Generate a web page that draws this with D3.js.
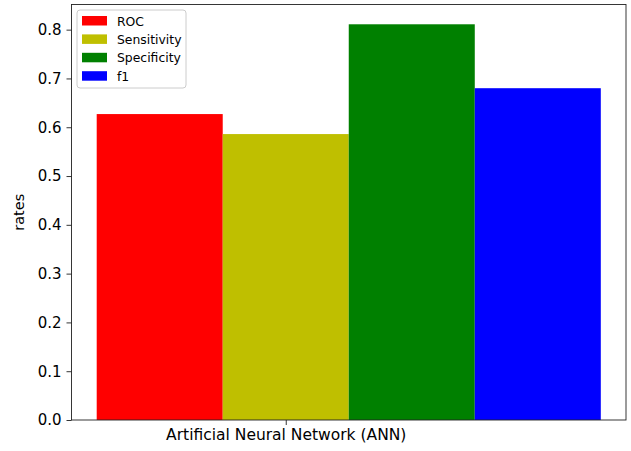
<!DOCTYPE html>
<html>
<head>
<meta charset="utf-8">
<script src="https://cdn.jsdelivr.net/npm/d3@7"></script>
<style>
  body { margin: 0; background: #fff; }
  svg { display: block; font-family: "DejaVu Sans", sans-serif; }
</style>
</head>
<body>
<svg id="chart" width="631" height="451"></svg>
<script>
// Classifier evaluation metrics for the ANN model
const categories = ["Artificial Neural Network (ANN)"];
const seriesNames = ["ROC", "Sensitivity", "Specificity", "f1"];
const seriesColors = ["#ff0000", "#bfbf00", "#008000", "#0000ff"];
const rocValues = [0.627];
const sensitivityValues = [0.586];
const specificityValues = [0.811];
const f1Values = [0.680];
const yTicks = [0.0, 0.1, 0.2, 0.3, 0.4, 0.5, 0.6, 0.7, 0.8];

const series = [rocValues, sensitivityValues, specificityValues, f1Values];

const svg = d3.select("#chart");
const margin = { left: 71.5, right: 5, top: 4.5, bottom: 31 };
const W = 631, H = 451;
const iw = W - margin.left - margin.right;
const ih = H - margin.top - margin.bottom;

const g = svg.append("g").attr("transform", `translate(${margin.left},${margin.top})`);

// Bars sit side by side: bar k of category i spans [i + k*w, i + (k+1)*w)
const barW = 0.25;
const nSeries = series.length;
const xMinData = -barW / 2;
const xMaxData = categories.length - 1 + (nSeries - 0.5) * barW;
const pad = (xMaxData - xMinData) * 0.05;
const x = d3.scaleLinear().domain([xMinData - pad, xMaxData + pad]).range([0, iw]);

const yMax = d3.max(series, s => d3.max(s)) * 1.05;
const y = d3.scaleLinear().domain([0, yMax]).range([ih, 0]);

series.forEach((vals, k) => {
  g.selectAll(null)
    .data(vals)
    .enter()
    .append("rect")
    .attr("x", (d, i) => x(i + k * barW - barW / 2))
    .attr("width", x(barW) - x(0))
    .attr("y", d => y(d))
    .attr("height", d => y(0) - y(d))
    .attr("fill", seriesColors[k]);
});

// Y axis
const yAxis = d3.axisLeft(y).tickValues(yTicks).tickFormat(d3.format(".1f")).tickSize(5).tickPadding(5);
const yg = g.append("g").call(yAxis);
yg.select(".domain").remove();
yg.selectAll(".tick line").attr("stroke", "#000").attr("stroke-width", 0.8);
yg.selectAll(".tick text").attr("font-size", 15).attr("fill", "#000").attr("font-family", "DejaVu Sans");

// X axis, one tick per category at the centre of its second bar
const xAxis = d3.axisBottom(x).tickValues(categories.map((c, i) => i + barW))
  .tickFormat((d, i) => categories[i]).tickSize(5).tickPadding(4);
const xg = g.append("g").attr("transform", `translate(0,${ih})`).call(xAxis);
xg.select(".domain").remove();
xg.selectAll(".tick line").attr("stroke", "#000").attr("stroke-width", 0.8);
xg.selectAll(".tick text").attr("font-size", 15.5).attr("fill", "#000").attr("font-family", "DejaVu Sans");

// Frame
g.append("rect").attr("x", 0).attr("y", 0).attr("width", iw).attr("height", ih)
  .attr("fill", "none").attr("stroke", "#222").attr("stroke-width", 0.9);

// Y label
svg.append("text")
  .attr("transform", `translate(24,${margin.top + ih / 2}) rotate(-90)`)
  .attr("text-anchor", "middle")
  .attr("font-size", 14.5)
  .attr("fill", "#000")
  .text("rates");

// Legend
const lg = g.append("g").attr("transform", "translate(5.5,5.5)");
lg.append("rect").attr("width", 109).attr("height", 78).attr("rx", 3)
  .attr("fill", "#fff").attr("fill-opacity", 0.8).attr("stroke", "#cccccc").attr("stroke-width", 1);
seriesNames.forEach((name, k) => {
  const row = lg.append("g").attr("transform", `translate(0,${11 + k * 18.4})`);
  row.append("rect").attr("x", 5).attr("y", -5).attr("width", 25).attr("height", 9.5).attr("fill", seriesColors[k]);
  row.append("text").attr("x", 40).attr("y", 4.5).attr("font-size", 12.4).attr("fill", "#000").text(name);
});
</script>
</body>
</html>
